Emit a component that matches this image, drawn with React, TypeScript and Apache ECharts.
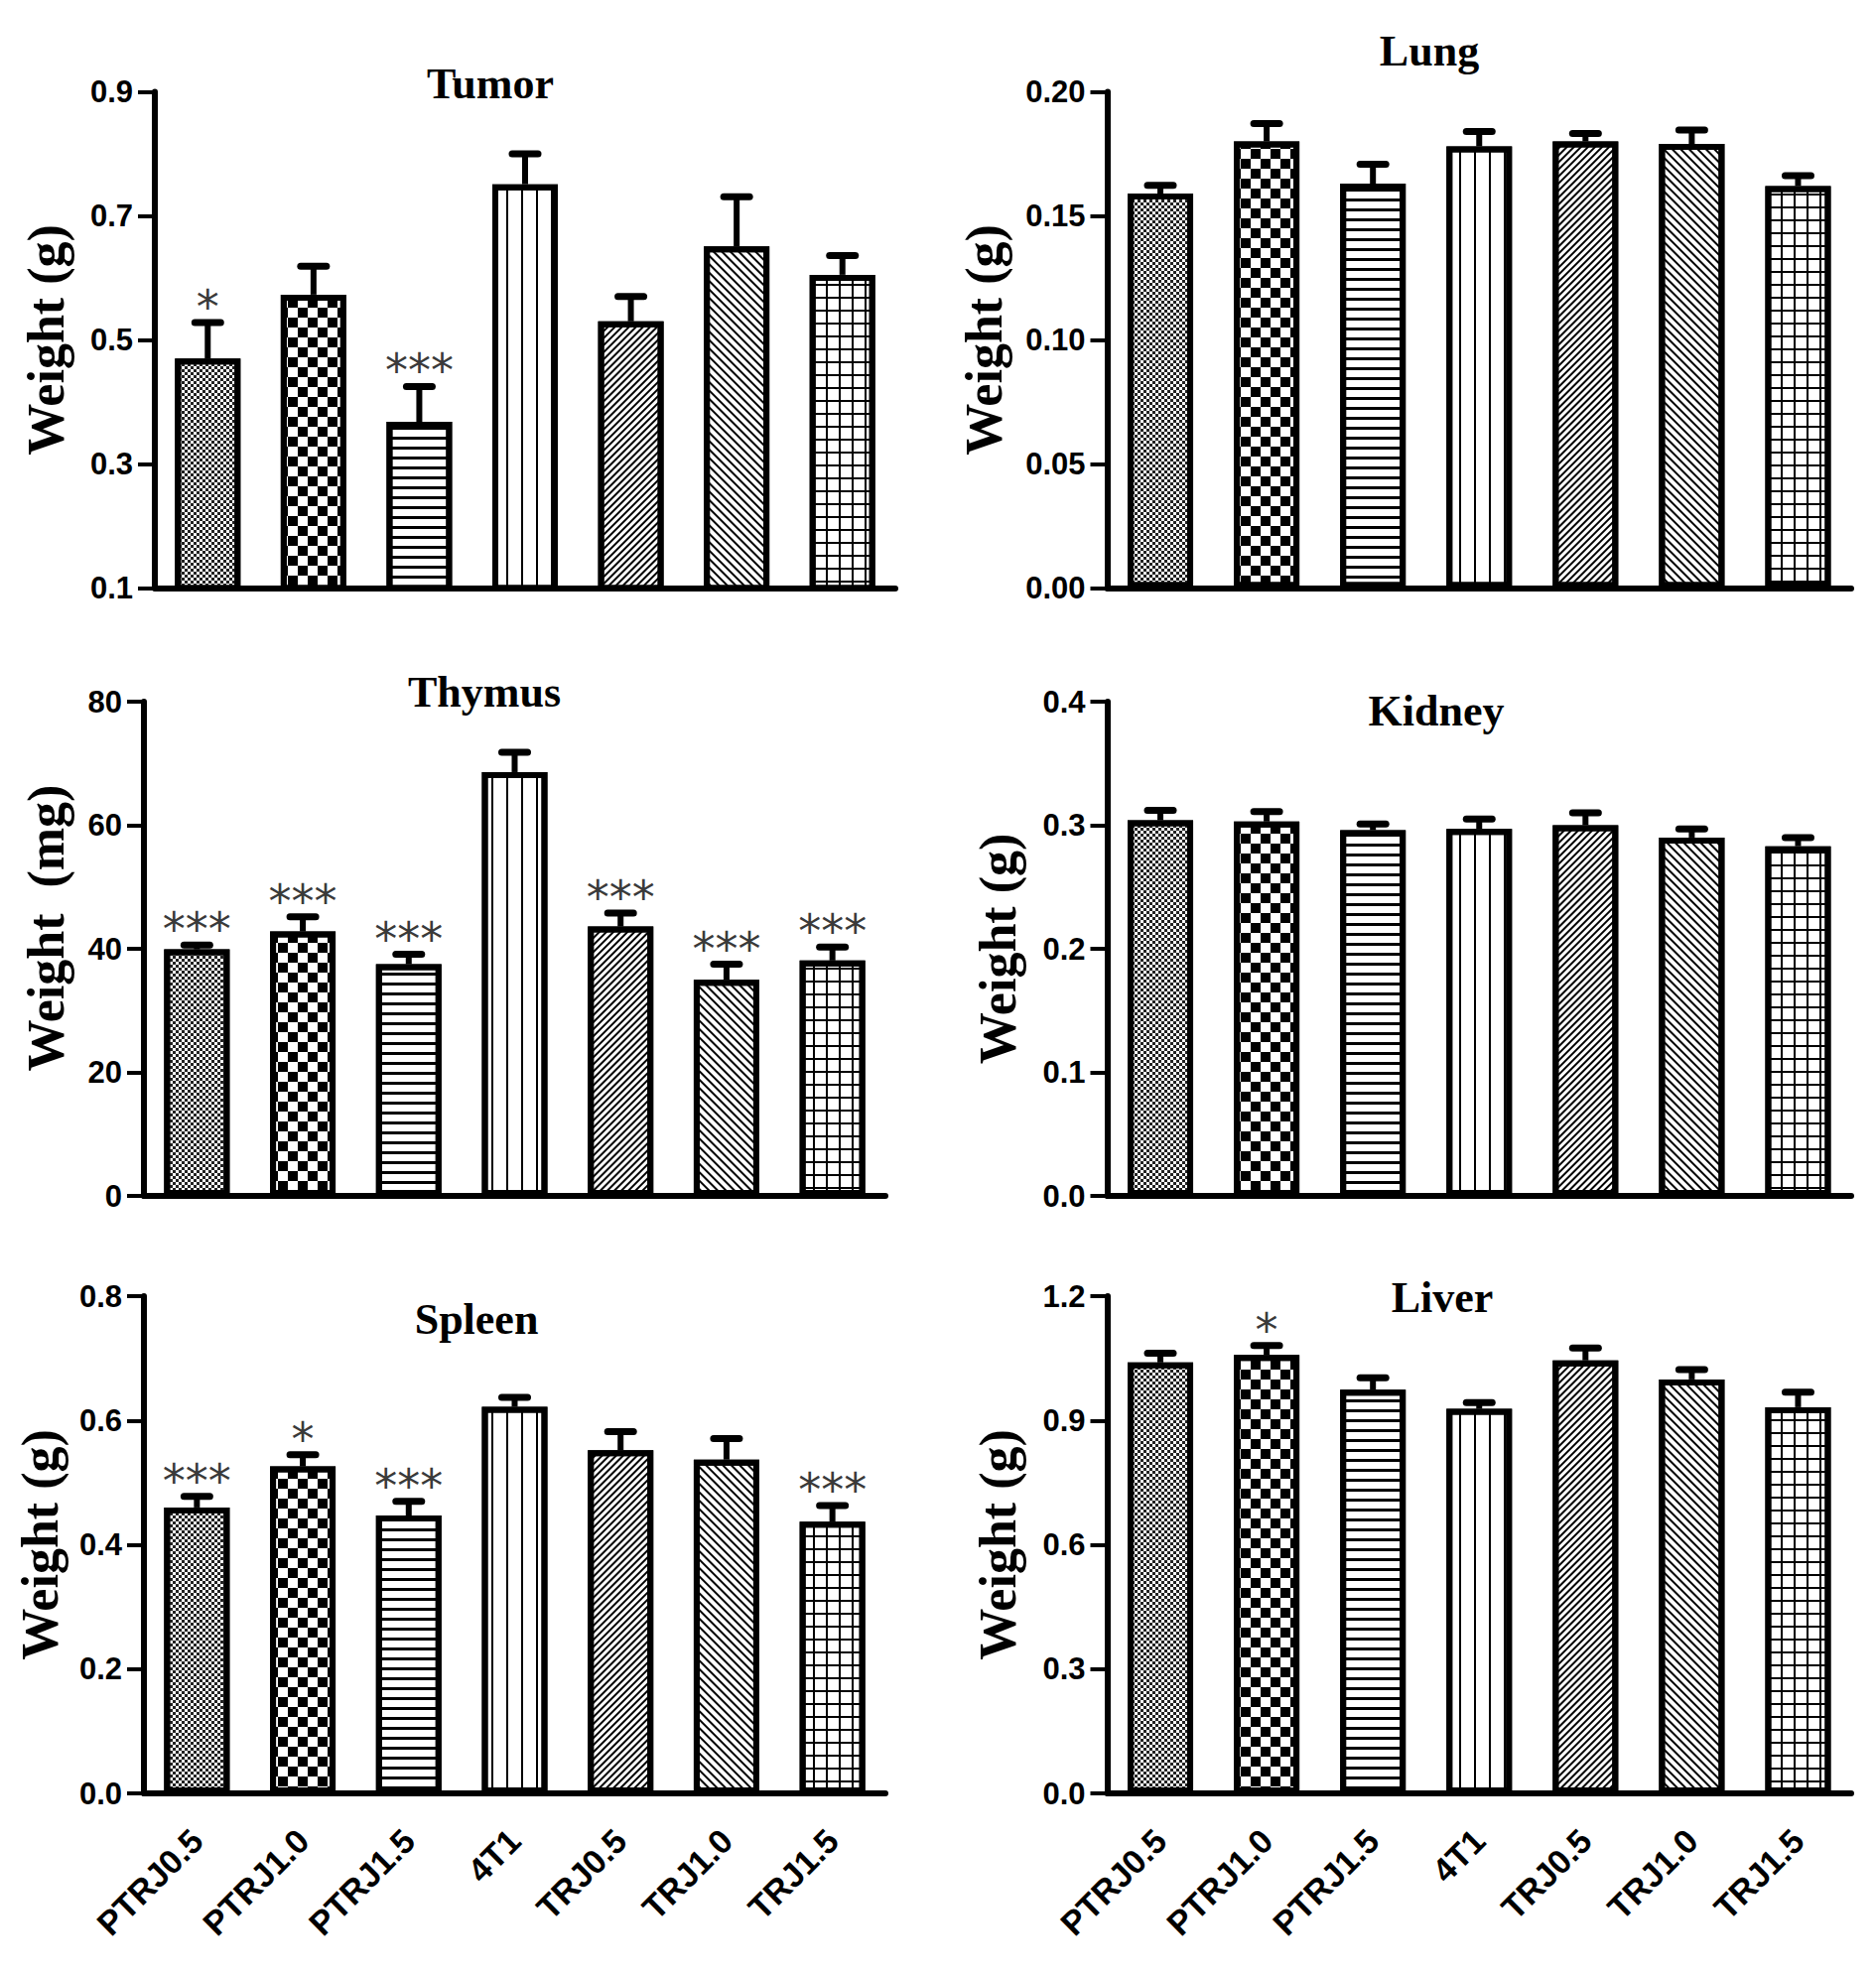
import React, { useEffect, useRef } from 'react';
import * as echarts from 'echarts';

const groups = ['PTRJ0.5', 'PTRJ1.0', 'PTRJ1.5', '4T1', 'TRJ0.5', 'TRJ1.0', 'TRJ1.5'];

// mean and SEM per group
const tumorMean = [0.470, 0.573, 0.368, 0.751, 0.530, 0.651, 0.605];
const tumorSem = [0.058, 0.046, 0.057, 0.049, 0.040, 0.080, 0.031];
const tumorSig = ['*', '', '***', '', '', '', ''];
const tumorTicks = [0.1, 0.3, 0.5, 0.7, 0.9];

const lungMean = [0.159, 0.180, 0.163, 0.178, 0.180, 0.179, 0.162];
const lungSem = [0.0033, 0.0072, 0.0078, 0.0060, 0.0032, 0.0056, 0.0042];
const lungSig = ['', '', '', '', '', '', ''];
const lungTicks = [0, 0.05, 0.1, 0.15, 0.2];

const thymusMean = [39.9, 42.8, 37.5, 68.6, 43.6, 35.0, 38.1];
const thymusSem = [0.7, 2.4, 1.6, 3.2, 2.2, 2.5, 2.2];
const thymusSig = ['***', '***', '***', '', '***', '***', '***'];
const thymusTicks = [0, 20, 40, 60, 80];

const kidneyMean = [0.304, 0.303, 0.296, 0.297, 0.300, 0.290, 0.283];
const kidneySem = [0.008, 0.008, 0.005, 0.008, 0.010, 0.007, 0.007];
const kidneySig = ['', '', '', '', '', '', ''];
const kidneyTicks = [0, 0.1, 0.2, 0.3, 0.4];

const spleenMean = [0.460, 0.526, 0.447, 0.622, 0.552, 0.537, 0.437];
const spleenSem = [0.018, 0.019, 0.023, 0.015, 0.030, 0.034, 0.026];
const spleenSig = ['***', '*', '***', '', '', '', '***'];
const spleenTicks = [0, 0.2, 0.4, 0.6, 0.8];

const liverMean = [1.040, 1.058, 0.974, 0.928, 1.045, 0.999, 0.932];
const liverSem = [0.022, 0.023, 0.029, 0.015, 0.030, 0.024, 0.036];
const liverSig = ['', '*', '', '', '', '', ''];
const liverTicks = [0, 0.3, 0.6, 0.9, 1.2];

// hatch fill of each group (same order as groups)
const hatch = [
  { dashArrayX: [[3, 3], [0, 3, 3, 0]], dashArrayY: [3, 0], color: '#222' },
  { dashArrayX: [[10, 10], [0, 10, 10, 0]], dashArrayY: [10, 0] },
  { dashArrayX: [10, 0], dashArrayY: [3, 7] },
  { dashArrayX: [2, 13], dashArrayY: [10, 0] },
  { dashArrayX: [10, 0], dashArrayY: [2, 3], rotation: -Math.PI / 4 },
  { dashArrayX: [10, 0], dashArrayY: [2, 4], rotation: Math.PI / 4 },
  { dashArrayX: [[13, 0], [2, 11]], dashArrayY: [2, 0, 11, 0] },
].map(d => ({ symbol: 'rect', symbolSize: 1, color: '#000', ...d }));

const panels = [
  { title: 'Tumor', at: [494, 84], mean: tumorMean, sem: tumorSem, sig: tumorSig, ticks: tumorTicks, digits: 1,
    yName: 'Weight (g)', nameGap: 84, namePad: 0, labels: false, grid: { left: 156, top: 92.5, width: 746, height: 500 } },
  { title: 'Lung', at: [1440, 51], mean: lungMean, sem: lungSem, sig: lungSig, ticks: lungTicks, digits: 2,
    yName: 'Weight (g)', nameGap: 98, namePad: 0, labels: false, grid: { left: 1115.5, top: 92.5, width: 749.5, height: 500 } },
  { title: 'Thymus', at: [488, 697], mean: thymusMean, sem: thymusSem, sig: thymusSig, ticks: thymusTicks, digits: 0,
    yName: 'Weight  (mg)', nameGap: 73, namePad: 42, labels: false, grid: { left: 145, top: 707, width: 747, height: 498 } },
  { title: 'Kidney', at: [1447, 716], mean: kidneyMean, sem: kidneySem, sig: kidneySig, ticks: kidneyTicks, digits: 1,
    yName: 'Weight (g)', nameGap: 84, namePad: 0, labels: false, grid: { left: 1115.5, top: 707, width: 749.5, height: 498 } },
  { title: 'Spleen', at: [480, 1329], mean: spleenMean, sem: spleenSem, sig: spleenSig, ticks: spleenTicks, digits: 1,
    yName: 'Weight (g)', nameGap: 79, namePad: 0, labels: true, grid: { left: 145, top: 1306, width: 747, height: 501 } },
  { title: 'Liver', at: [1453, 1307], mean: liverMean, sem: liverSem, sig: liverSig, ticks: liverTicks, digits: 1,
    yName: 'Weight (g)', nameGap: 84, namePad: 0, labels: true, grid: { left: 1115.5, top: 1306, width: 749.5, height: 501 } },
];

const sans = '"Liberation Sans", Arial, sans-serif';
const starFont = '"DejaVu Sans", sans-serif';
const serif = '"Liberation Serif", "DejaVu Serif", serif';

export default function App() {
  const chartRef = useRef<HTMLDivElement>(null);

  useEffect(() => {
    document.body.style.margin = '0';
    if (!chartRef.current) return;
    const chart = echarts.init(chartRef.current, null, { renderer: 'svg' });

    const series: any[] = [];
    panels.forEach((p, k) => {
      series.push({
        type: 'bar',
        xAxisIndex: k,
        yAxisIndex: k,
        barWidth: 66,
        silent: true,
        itemStyle: { color: '#fff', borderColor: '#000', borderWidth: 6 },
        data: p.mean.map((m, i) => ({ value: m, itemStyle: { decal: hatch[i] } })),
      });
      series.push({
        type: 'custom',
        xAxisIndex: k,
        yAxisIndex: k,
        silent: true,
        z: 3,
        encode: { x: 0, y: 1 },
        data: p.mean.map((m, i) => [i, m + p.sem[i]]),
        renderItem: (params: any, api: any) => {
          const i = params.dataIndex;
          const base = api.coord([i, p.mean[i]]);
          const top = api.coord([i, p.mean[i] + p.sem[i]]);
          const children: any[] = [
            { type: 'line', shape: { x1: base[0], y1: base[1], x2: top[0], y2: top[1] },
              style: { stroke: '#000', lineWidth: 6 } },
            { type: 'line', shape: { x1: top[0] - 13, y1: top[1], x2: top[0] + 13, y2: top[1] },
              style: { stroke: '#000', lineWidth: 7, lineCap: 'round' } },
          ];
          if (p.sig[i]) {
            children.push({
              type: 'text',
              style: { text: p.sig[i], x: top[0], y: top[1] - 16, align: 'center', verticalAlign: 'middle',
                font: `46px ${starFont}`, fill: '#3a3a3a' },
            });
          }
          return { type: 'group', children };
        },
      });
    });

    chart.setOption({
      animation: false,
      backgroundColor: '#fff',
      grid: panels.map(p => ({ ...p.grid })),
      xAxis: panels.map((p, k) => ({
        type: 'category',
        gridIndex: k,
        data: groups,
        axisLine: { lineStyle: { color: '#000', width: 6 } },
        axisTick: { alignWithLabel: true, length: 16, lineStyle: { color: '#000', width: 4 } },
        axisLabel: {
          show: p.labels, rotate: 45, margin: 42, interval: 0,
          fontSize: 34, fontWeight: 'bold', fontFamily: sans, color: '#000',
        },
        splitLine: { show: false },
      })),
      yAxis: panels.map((p, k) => ({
        type: 'value',
        gridIndex: k,
        min: p.ticks[0],
        max: p.ticks[p.ticks.length - 1],
        axisLine: { show: true, lineStyle: { color: '#000', width: 6 } },
        axisTick: { show: true, length: 17, customValues: p.ticks, lineStyle: { color: '#000', width: 4 } },
        axisLabel: {
          customValues: p.ticks, margin: 22,
          formatter: (v: number) => v.toFixed(p.digits),
          fontSize: 31, fontWeight: 'bold', fontFamily: sans, color: '#000',
        },
        splitLine: { show: false },
        name: p.yName,
        nameLocation: 'middle',
        nameGap: p.nameGap,
        nameTextStyle: {
          fontFamily: serif, fontWeight: 'bold', fontSize: 52, color: '#000',
          padding: [0, 0, 0, p.namePad],
        },
      })),
      graphic: panels.map(p => ({
        type: 'text',
        x: p.at[0],
        y: p.at[1],
        silent: true,
        style: { text: p.title, align: 'center', verticalAlign: 'middle', font: `bold 44px ${serif}`, fill: '#000' },
      })),
      series,
    });

    return () => {
      chart.dispose();
    };
  }, []);

  return <div ref={chartRef} style={{ width: '1890px', height: '1989px' }}></div>;
}
